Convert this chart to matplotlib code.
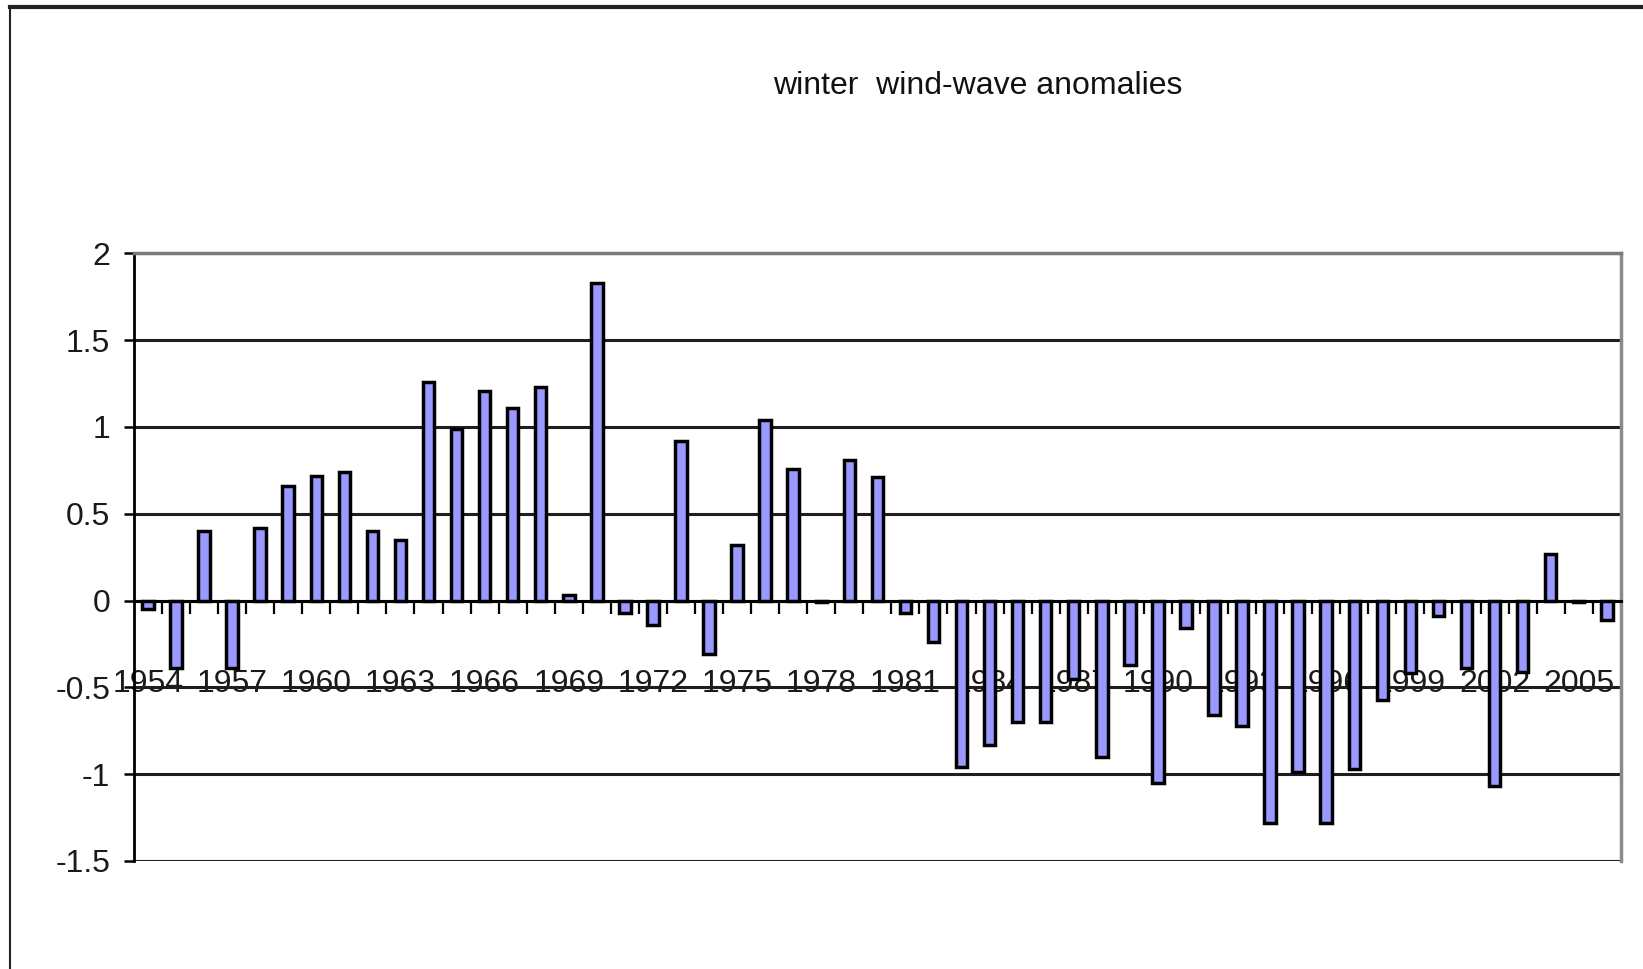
import matplotlib
matplotlib.use("Agg")
import matplotlib.pyplot as plt
from matplotlib.lines import Line2D
from matplotlib.ticker import FixedLocator, FixedFormatter

plt.rcParams['font.family'] = ['Liberation Sans Narrow', 'Liberation Sans', 'DejaVu Sans']

# winter wind-wave anomalies, one value per year
years = list(range(1954, 2007))
anomalies = [
    -0.05, -0.39, 0.40, -0.39, 0.42, 0.66, 0.72, 0.74, 0.40, 0.35,   # 1954-1963
    1.26, 0.99, 1.21, 1.11, 1.23, 0.03, 1.83, -0.07, -0.14, 0.92,    # 1964-1973
    -0.31, 0.32, 1.04, 0.76, -0.01, 0.81, 0.71, -0.07, -0.24, -0.96, # 1974-1983
    -0.83, -0.70, -0.70, -0.45, -0.90, -0.37, -1.05, -0.16, -0.66, -0.72,  # 1984-1993
    -1.28, -0.99, -1.28, -0.97, -0.57, -0.42, -0.09, -0.39, -1.07, -0.41,  # 1994-2003
    0.27, -0.01, -0.11,                                              # 2004-2006
]
year_labels = [str(y) for y in years[::3]]
y_ticks = [2, 1.5, 1, 0.5, 0, -0.5, -1, -1.5]
y_tick_labels = ['2', '1.5', '1', '0.5', '0', '-0.5', '-1', '-1.5']
title = 'winter  wind-wave anomalies'

fig = plt.figure(figsize=(16.43, 9.69), dpi=100)
fig.patch.set_facecolor('white')
ax = fig.add_axes([0.0815, 0.1115, 0.905, 0.627])

x = list(range(len(years)))
ax.bar(x, anomalies, width=0.41, color='#9999FF', edgecolor='black',
       linewidth=2.5, zorder=3)

ax.set_xlim(-0.5, len(years) - 0.5)
ax.set_ylim(-1.5, 2)

# value axis
ax.yaxis.set_major_locator(FixedLocator(y_ticks))
ax.yaxis.set_major_formatter(FixedFormatter(y_tick_labels))
ax.tick_params(axis='y', direction='out', length=7, width=1.8, color='black',
               labelsize=23, labelcolor='#1a1a1a', pad=10)
ax.grid(axis='y', color='#1e1e1e', linewidth=2.2, zorder=1)

# category axis sits at zero, ticks between the bars
ax.spines['bottom'].set_position(('data', 0))
ax.spines['bottom'].set_linewidth(2.2)
ax.xaxis.set_major_locator(FixedLocator(x[::3]))
ax.xaxis.set_major_formatter(FixedFormatter(year_labels))
ax.xaxis.set_minor_locator(FixedLocator([i - 0.5 for i in x[1:]]))
ax.tick_params(axis='x', which='major', length=0, labelsize=23,
               labelcolor='#1a1a1a', pad=49)
ax.tick_params(axis='x', which='minor', direction='out', length=9, width=1.6,
               color='black')

ax.spines['left'].set_linewidth(2)
ax.spines['top'].set_color('#7a7a7a')
ax.spines['top'].set_linewidth(2.5)
ax.spines['right'].set_color('#8a8a8a')
ax.spines['right'].set_linewidth(2.5)

fig.text(0.595, 0.911, title, ha='center', va='center', fontsize=23,
         color='#111111')

# chart area frame
fig.add_artist(Line2D([0.006, 1.0], [0.9925, 0.9925], color='#222222',
                      linewidth=3, transform=fig.transFigure))
fig.add_artist(Line2D([0.006, 0.006], [0.0, 0.9925], color='#222222',
                      linewidth=1.5, transform=fig.transFigure))

fig.savefig('out.png', dpi=100)
